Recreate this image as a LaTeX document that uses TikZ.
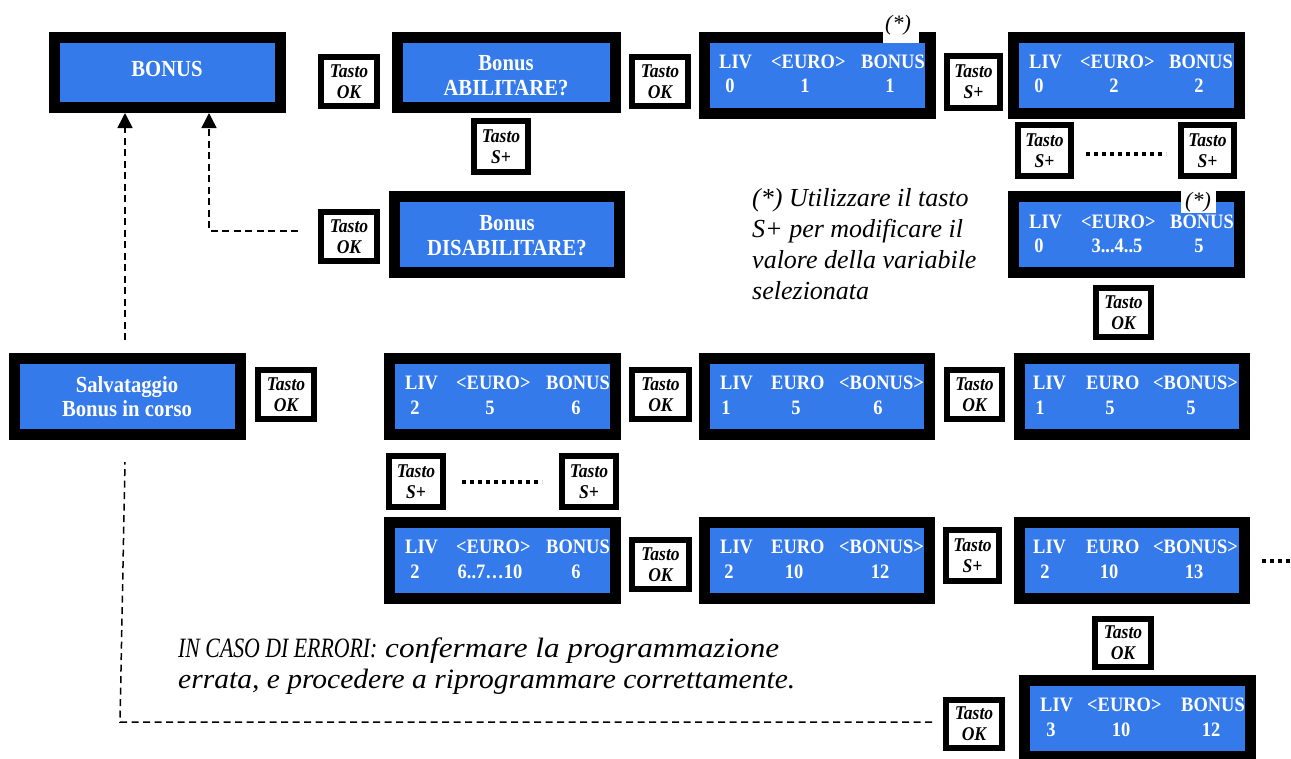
\documentclass[tikz,border=0pt]{standalone}
\usepackage{fontspec}
\usepackage{graphicx}
\usetikzlibrary{arrows.meta,calc}
\newfontfamily\tnr{Liberation Serif}
\newfontfamily\tnrc{Liberation Serif}[FakeStretch=0.9]
\definecolor{lcdblue}{RGB}{52,122,235}

\tikzset{
  screen/.style={draw=black, fill=lcdblue, line width=11pt, inner sep=0pt, outer sep=5.5pt},
  keybox/.style={draw=black, fill=white, line width=6pt, inner sep=0pt, outer sep=3pt,
    align=center, font=\tnrc\bfseries\itshape\fontsize{19.5}{21}\selectfont},
  title/.style={text=white, align=center, inner sep=0pt,
    font=\tnrc\bfseries\fontsize{23}{24.5}\selectfont},
  lcdlab/.style={text=white, anchor=base west, inner sep=0pt,
    font=\tnrc\bfseries\fontsize{20.5}{22}\selectfont},
  lcdnum/.style={lcdlab, anchor=base},
  flow/.style={dash pattern=on 7pt off 4.5pt, line width=1.5pt},
  tip/.style={-{Triangle[length=15pt,width=15pt]}},
  dotrow/.style={line width=4pt, dash pattern=on 4pt off 4pt},
  asterisk/.style={inner sep=0pt, font=\tnr\itshape\fontsize{22}{24}\selectfont},
  remark/.style={inner sep=0pt, font=\tnr\itshape\fontsize{26}{31}\selectfont},
}

% screen: name, outer x1, y1, x2, y2
\newcommand\screenbox[5]{%
  \pgfmathsetmacro\scrw{#4-#2-11}\pgfmathsetmacro\scrh{#5-#3-11}%
  \node[screen, minimum width=\scrw pt, minimum height=\scrh pt] (#1)
    at ({(#2+#4)/2},{(#3+#5)/2}) {};}
% key: name, outer x1, y1, x2, y2, key name
\newcommand\keypad[6]{%
  \pgfmathsetmacro\kpw{#4-#2-6}\pgfmathsetmacro\kph{#5-#3-6}%
  \node[keybox, minimum width=\kpw pt, minimum height=\kph pt] (#1)
    at ({(#2+#4)/2},{(#3+#5)/2}) {Tasto\\#6};}
\newcommand\lcdl[4]{\node[lcdlab] (#1) at (#2,#3) {#4};}
\newcommand\lcdn[4]{\node[lcdnum] (#1) at (#2,#3) {#4};}

\begin{document}
\begin{tikzpicture}[x=1pt,y=-1pt]
\useasboundingbox (0,0) rectangle (1291,758);
\fill[white] (0,0) rectangle (1291,758);

% ---- screens ----
\screenbox{bonus}{49}{32}{286}{113}
\screenbox{abil}{392}{32}{621}{113}
\screenbox{s1}{699}{32}{936}{119}
\screenbox{s2}{1008}{32}{1245}{119}
\screenbox{dis}{389}{191}{625}{278}
\screenbox{s3}{1008}{191}{1245}{278}
\screenbox{salva}{9}{353}{246}{440}
\screenbox{s4}{384}{353}{621}{440}
\screenbox{s5}{699}{353}{935}{440}
\screenbox{s6}{1014}{353}{1250}{440}
\screenbox{s7}{384}{517}{621}{604}
\screenbox{s8}{699}{517}{935}{604}
\screenbox{s9}{1014}{517}{1250}{604}
\screenbox{s10}{1019}{675}{1256}{762}

% ---- menu titles ----
\node[title, anchor=base] (tbonus) at (167,76) {BONUS};
\node[title] (tabil) at (506,75.5) {Bonus\\ABILITARE?};
\node[title] (tdis) at (507,235.5) {Bonus\\DISABILITARE?};
\node[title] (tsalva) at (127,396.5) {Salvataggio\\Bonus in corso};

% ---- readouts ----
\lcdl{s1a}{719}{68}{LIV}\lcdl{s1b}{771}{68}{<EURO>}\lcdl{s1c}{861}{68}{BONUS}
\lcdn{s1d}{730}{92}{0}\lcdn{s1e}{805}{92}{1}\lcdn{s1f}{890}{92}{1}

\lcdl{s2a}{1029}{68}{LIV}\lcdl{s2b}{1080}{68}{<EURO>}\lcdl{s2c}{1169}{68}{BONUS}
\lcdn{s2d}{1039}{92}{0}\lcdn{s2e}{1114}{92}{2}\lcdn{s2f}{1199}{92}{2}

\lcdl{s3a}{1029}{228}{LIV}\lcdl{s3b}{1081}{228}{<EURO>}\lcdl{s3c}{1170}{228}{BONUS}
\lcdn{s3d}{1039}{252}{0}\lcdn{s3e}{1117}{252}{3...4..5}\lcdn{s3f}{1199}{252}{5}

\lcdl{s4a}{405}{389}{LIV}\lcdl{s4b}{456}{389}{<EURO>}\lcdl{s4c}{546}{389}{BONUS}
\lcdn{s4d}{415}{414}{2}\lcdn{s4e}{490}{414}{5}\lcdn{s4f}{576}{414}{6}

\lcdl{s5a}{720}{389}{LIV}\lcdl{s5b}{771}{389}{EURO}\lcdl{s5c}{839}{389}{<BONUS>}
\lcdn{s5d}{726}{414}{1}\lcdn{s5e}{796}{414}{5}\lcdn{s5f}{878}{414}{6}

\lcdl{s6a}{1033}{389}{LIV}\lcdl{s6b}{1086}{389}{EURO}\lcdl{s6c}{1153}{389}{<BONUS>}
\lcdn{s6d}{1040}{414}{1}\lcdn{s6e}{1110}{414}{5}\lcdn{s6f}{1191}{414}{5}

\lcdl{s7a}{405}{553}{LIV}\lcdl{s7b}{456}{553}{<EURO>}\lcdl{s7c}{546}{553}{BONUS}
\lcdn{s7d}{415}{578}{2}\lcdn{s7e}{490}{578}{6..7…10}\lcdn{s7f}{576}{578}{6}

\lcdl{s8a}{720}{553}{LIV}\lcdl{s8b}{771}{553}{EURO}\lcdl{s8c}{839}{553}{<BONUS>}
\lcdn{s8d}{729}{578}{2}\lcdn{s8e}{794}{578}{10}\lcdn{s8f}{880}{578}{12}

\lcdl{s9a}{1033}{553}{LIV}\lcdl{s9b}{1086}{553}{EURO}\lcdl{s9c}{1153}{553}{<BONUS>}
\lcdn{s9d}{1045}{578}{2}\lcdn{s9e}{1109}{578}{10}\lcdn{s9f}{1194}{578}{13}

\lcdl{s10a}{1040}{711}{LIV}\lcdl{s10b}{1087}{711}{<EURO>}\lcdl{s10c}{1181}{711}{BONUS}
\lcdn{s10d}{1051}{736}{3}\lcdn{s10e}{1121}{736}{10}\lcdn{s10f}{1211}{736}{12}

% ---- selection markers ----
\fill[white] (883,30) rectangle (919,43);
\node[asterisk] (ast1) at (898,25.5) {(*)};
\node[asterisk, fill=white, minimum width=35pt, minimum height=22pt] (ast2) at (1198,202) {(*)};

% ---- keys ----
\keypad{k1}{318}{54}{380}{109}{OK}
\keypad{k2}{629}{54}{691}{109}{OK}
\keypad{k3}{944}{53}{1003}{111}{S+}
\keypad{k4}{471}{118}{531}{175}{S+}
\keypad{k5}{318}{209}{380}{264}{OK}
\keypad{k6}{1015}{122}{1074}{179}{S+}
\keypad{k7}{1178}{122}{1237}{179}{S+}
\keypad{k8}{1093}{285}{1154}{340}{OK}
\keypad{k9}{255}{367}{317}{422}{OK}
\keypad{k10}{629}{367}{692}{422}{OK}
\keypad{k11}{944}{367}{1005}{422}{OK}
\keypad{k12}{386}{453}{446}{510}{S+}
\keypad{k13}{559}{453}{619}{510}{S+}
\keypad{k14}{629}{537}{692}{592}{OK}
\keypad{k15}{943}{527}{1002}{584}{S+}
\keypad{k16}{1092}{616}{1154}{670}{OK}
\keypad{k17}{943}{697}{1005}{751}{OK}

% ---- repeated presses ----
\draw[dotrow] (1086,154) -- (1166,154);
\draw[dotrow] (462,482) -- (542,482);
\draw[dotrow] (1262,561) -- (1298,561);

% ---- return paths ----
\coordinate (up1) at (125,340);
\draw[flow, tip] (up1) -- (up1 |- bonus.south);
\coordinate (up2) at (298,231);
\draw[flow, tip] (up2) -| ($(bonus.south)+(41.5,0)$);
\coordinate (dn1) at (932,722);
\coordinate (dn2) at (120,722);
\coordinate (dn3) at (125,462);
\draw[flow] (dn1) -- (dn2) -- (dn3);

% ---- notes ----
\node[remark, anchor=north west, align=left] (note) at (752,188)
  {(*) Utilizzare il tasto\\S+ per modificare il\\valore della variabile\\selezionata};
\node[remark, anchor=base west, font=\tnr\itshape\fontsize{28}{31}\selectfont] (err1) at (178,657)
  {\resizebox{601pt}{\height}{\scalebox{0.7}[1]{IN CASO DI ERRORI:} confermare la programmazione}};
\node[remark, anchor=base west, font=\tnr\itshape\fontsize{28}{31}\selectfont] (err2) at (178,688)
  {\resizebox{617pt}{\height}{errata, e procedere a riprogrammare correttamente.}};
\end{tikzpicture}
\end{document}
